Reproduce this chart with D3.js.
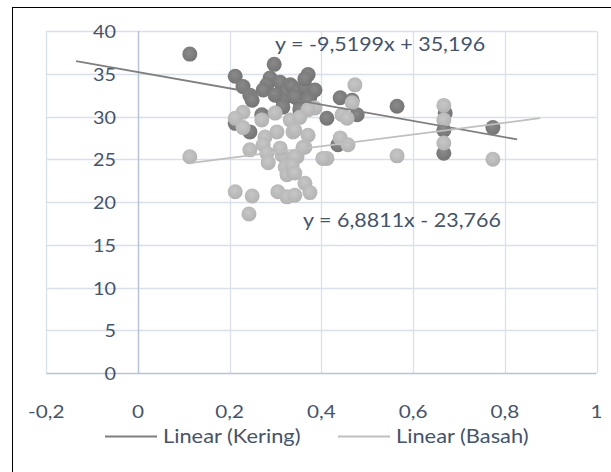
<!DOCTYPE html>
<html>
<head>
<meta charset="utf-8">
<script src="https://cdn.jsdelivr.net/npm/d3@7"></script>
<style>
  html, body { margin: 0; padding: 0; background: #fff; }
  svg { display: block; }
  text { font-family: Lato, "Open Sans", sans-serif; fill: #44546A; }
</style>
</head>
<body>
<svg id="chart" width="611" height="472"></svg>
<script>
// ---- data ----
const keringX = [0.113,0.297,0.212,0.229,0.244,0.249,0.288,0.281,0.273,0.310,0.332,0.325,0.316,0.316,0.270,0.212,0.244,0.371,0.336,0.347,0.364,0.375,0.353,0.412,0.441,0.467,0.478,0.565,0.436,0.670,0.667,0.667,0.774,0.364,0.342,0.299,0.353,0.375,0.386,0.371];
const keringY = [37.3,36.1,34.7,33.5,32.5,31.9,34.5,33.7,33.1,34.0,33.7,32.9,31.9,31.1,30.2,29.2,28.2,34.9,33.5,32.9,33.5,32.3,31.7,29.8,32.2,31.9,30.2,31.2,26.7,30.4,28.4,25.7,28.7,34.4,32.3,32.5,30.8,31.3,33.1,31.9];
const basahX = [0.113,0.229,0.212,0.229,0.270,0.299,0.332,0.303,0.277,0.273,0.244,0.338,0.473,0.467,0.445,0.456,0.386,0.371,0.353,0.342,0.371,0.364,0.441,0.458,0.412,0.565,0.667,0.667,0.667,0.774,0.281,0.284,0.314,0.321,0.325,0.338,0.347,0.212,0.249,0.242,0.305,0.325,0.342,0.364,0.375,0.360,0.342,0.336,0.342,0.403,0.310];
const basahY = [25.3,30.5,29.8,28.7,29.6,30.4,29.6,28.2,27.6,26.7,26.1,28.2,33.7,31.6,30.2,29.8,31.0,30.8,29.9,28.4,27.8,26.4,27.5,26.7,25.1,25.4,31.3,29.6,26.9,25.0,25.7,24.6,25.5,24.1,23.2,23.5,25.3,21.2,20.7,18.6,21.2,20.6,20.8,22.2,21.1,26.4,25.3,24.3,23.4,25.1,26.3];
// trendlines: slope, intercept, x-range
const keringTrend = { slope: -9.5199, intercept: 35.196, x0: -0.135, x1: 0.827 };
const basahTrend  = { slope: 6.8811,  intercept: 23.766, x0: 0.113,  x1: 0.877 };
const keringLabel = "y = -9,5199x + 35,196";
const basahLabel  = "y = 6,8811x - 23,766";
const xTicks = [-0.2, 0, 0.2, 0.4, 0.6, 0.8, 1];
const xTickLabels = ["-0,2", "0", "0,2", "0,4", "0,6", "0,8", "1"];
const yTicks = [0, 5, 10, 15, 20, 25, 30, 35, 40];
const yTickLabels = ["0", "5", "10", "15", "20", "25", "30", "35", "40"];
const legendLabels = ["Linear (Kering)", "Linear (Basah)"];

// ---- chart ----
const svg = d3.select("#chart");
const x = d3.scaleLinear().domain([-0.2, 1]).range([46.3, 596.5]);
const y = d3.scaleLinear().domain([0, 40]).range([373, 31]);

// frame
svg.append("rect").attr("x", 12.5).attr("y", 7.5).attr("width", 640).attr("height", 500)
  .attr("fill", "none").attr("stroke", "#000").attr("stroke-width", 1);

// gradients
const defs = svg.append("defs");
function grad(id, c1, c2) {
  const g = defs.append("radialGradient").attr("id", id).attr("cx", "45%").attr("cy", "40%").attr("r", "60%");
  g.append("stop").attr("offset", "0%").attr("stop-color", c1);
  g.append("stop").attr("offset", "100%").attr("stop-color", c2);
}
grad("gk", "#8a8a8a", "#747474");
grad("gb", "#c6c6c6", "#b3b3b3");

// helper: text stretched horizontally about its anchor
function label(sel, tx, ty, s) {
  return sel.attr("x", 0).attr("y", 0)
    .attr("transform", (d, i) => `translate(${typeof tx === "function" ? tx(d, i) : tx},${typeof ty === "function" ? ty(d, i) : ty}) scale(${s},1)`);
}

// gridlines
const grid = svg.append("g");
grid.selectAll(".hg").data(yTicks.filter(d => d !== 0)).join("line")
  .attr("x1", x(-0.2)).attr("x2", x(1))
  .attr("y1", d => Math.round(y(d)) + 0.5).attr("y2", d => Math.round(y(d)) + 0.5)
  .attr("stroke", "#dae0ea").attr("stroke-width", 1.3);
grid.selectAll(".vg").data(xTicks.filter(d => d !== 0)).join("line")
  .attr("x1", d => Math.round(x(d)) + 0.5).attr("x2", d => Math.round(x(d)) + 0.5)
  .attr("y1", y(0)).attr("y2", y(40))
  .attr("stroke", "#dae0ea").attr("stroke-width", 1.3);
// axis lines
svg.append("line").attr("x1", Math.round(x(0)) + 0.5).attr("x2", Math.round(x(0)) + 0.5)
  .attr("y1", y(0)).attr("y2", y(40)).attr("stroke", "#b9c3d6").attr("stroke-width", 1.5);
svg.append("line").attr("x1", x(-0.2)).attr("x2", x(1))
  .attr("y1", Math.round(y(0)) + 0.5).attr("y2", Math.round(y(0)) + 0.5)
  .attr("stroke", "#b9c3d6").attr("stroke-width", 1.5);

// y tick labels (next to the vertical axis at x=0)
label(svg.append("g").selectAll("text").data(yTicks).join("text"), x(0) - 22, d => y(d), 1.1)
  .attr("text-anchor", "end").attr("dominant-baseline", "central")
  .attr("font-size", 18)
  .text((d, i) => yTickLabels[i]);

// x tick labels
label(svg.append("g").selectAll("text").data(xTicks).join("text"), d => x(d), 411, 1.15)
  .attr("text-anchor", "middle").attr("dominant-baseline", "central")
  .attr("font-size", 18)
  .text((d, i) => xTickLabels[i]);

// points
const r = 7.5;
svg.append("g").selectAll("circle").data(keringX.map((d, i) => [d, keringY[i]])).join("circle")
  .attr("cx", d => x(d[0])).attr("cy", d => y(d[1])).attr("r", r)
  .attr("fill", "url(#gk)");
svg.append("g").selectAll("circle").data(basahX.map((d, i) => [d, basahY[i]])).join("circle")
  .attr("cx", d => x(d[0])).attr("cy", d => y(d[1])).attr("r", r)
  .attr("fill", "url(#gb)");

// trendlines
function trend(t, color) {
  svg.append("line")
    .attr("x1", x(t.x0)).attr("y1", y(t.slope * t.x0 + t.intercept))
    .attr("x2", x(t.x1)).attr("y2", y(t.slope * t.x1 + t.intercept))
    .attr("stroke", color).attr("stroke-width", 1.8);
}
trend(keringTrend, "#7f7f7f");
trend(basahTrend, "#bfbfbf");

// equation labels
label(svg.append("text"), 275, 44, 1.13).attr("dominant-baseline", "central")
  .attr("font-size", 19).text(keringLabel);
label(svg.append("text"), 303, 220, 1.13).attr("dominant-baseline", "central")
  .attr("font-size", 19).text(basahLabel);

// legend
const legend = [
  { label: legendLabels[0], color: "#7f7f7f", x: 105 },
  { label: legendLabels[1], color: "#bfbfbf", x: 338 }
];
const lg = svg.append("g").selectAll("g").data(legend).join("g");
lg.append("line").attr("x1", d => d.x).attr("x2", d => d.x + 52)
  .attr("y1", 436.5).attr("y2", 436.5).attr("stroke", d => d.color).attr("stroke-width", 2);
label(lg.append("text"), d => d.x + 58, 436, 1.18).attr("dominant-baseline", "central")
  .attr("font-size", 18.5).text(d => d.label);
</script>
</body>
</html>
